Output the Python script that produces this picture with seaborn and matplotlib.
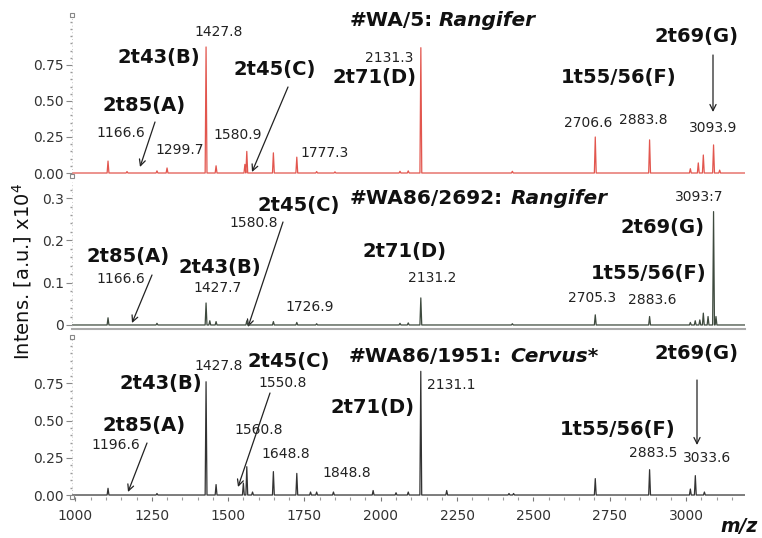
import numpy as np
import pandas as pd
import matplotlib
matplotlib.use("Agg")
import matplotlib.pyplot as plt
import seaborn as sns
from matplotlib.ticker import MultipleLocator, FixedLocator

# ---------------- data (peak lists) ----------------
mz_wa5 = [1106.7, 1168.9, 1267, 1300, 1427.8, 1460.6, 1555, 1561.2, 1648.3, 1725,
          1790, 1850, 2063, 2090, 2131.3, 2431, 2702.6, 2880.5, 3014, 3040, 3056.5,
          3090, 3110]
int_wa5 = [0.083, 0.01, 0.015, 0.035, 0.875, 0.05, 0.06, 0.15, 0.14, 0.11,
           0.01, 0.008, 0.012, 0.015, 0.87, 0.012, 0.25, 0.23, 0.03, 0.07, 0.125,
           0.195, 0.02]

mz_wa2692 = [1106.7, 1267, 1427.8, 1440, 1460.6, 1561.2, 1648.3, 1725, 1790, 2063,
             2090, 2131.2, 2431, 2702.6, 2880.5, 3014, 3030, 3045, 3056.5, 3072,
             3090, 3098]
int_wa2692 = [0.017, 0.004, 0.052, 0.01, 0.008, 0.01, 0.008, 0.006, 0.003, 0.004,
              0.005, 0.064, 0.003, 0.024, 0.02, 0.006, 0.01, 0.012, 0.028, 0.02,
              0.268, 0.02]

mz_wa1951 = [1106.7, 1267, 1427.8, 1460.6, 1550, 1561.2, 1580, 1648.3, 1725, 1770,
             1790, 1845, 1975, 2050, 2090, 2131.1, 2216, 2420, 2435, 2702.6, 2880.5,
             3014, 3030.3, 3060]
int_wa1951 = [0.045, 0.01, 0.76, 0.07, 0.08, 0.19, 0.02, 0.157, 0.145, 0.02,
              0.02, 0.02, 0.03, 0.015, 0.02, 0.83, 0.03, 0.01, 0.01, 0.11, 0.17,
              0.04, 0.13, 0.02]

xticks = [1000, 1250, 1500, 1750, 2000, 2250, 2500, 2750, 3000]
yticks_big = [0.0, 0.25, 0.50, 0.75]
yticklabels_big = ["0.00", "0.25", "0.50", "0.75"]
yticks_small = [0.0, 0.1, 0.2, 0.3]
yticklabels_small = ["0", "0.1", "0.2", "0.3"]

sample_ids = ["#WA/5:", "#WA86/2692:", "#WA86/1951:"]
taxa = ["Rangifer", "Rangifer", "Cervus*"]

# ---------------- styling ----------------
sns.set_theme(style="white")
plt.rcParams['font.family'] = ['DejaVu Sans']

W, H = 762, 538
fig = plt.figure(figsize=(W / 100, H / 100), dpi=100)


def px_axes(l, t, r, b):
    return fig.add_axes([l / W, 1 - b / H, (r - l) / W, (b - t) / H])


ax1 = px_axes(72, 15, 745, 176)
ax2 = px_axes(72, 182, 745, 329)
ax3 = px_axes(72, 337, 745, 497)
XMIN, XMAX = 988.7, 3193.0


def stick_frame(mz, inten, half=3.0):
    xs, ys = [XMIN], [0.0]
    for m, h in sorted(zip(mz, inten)):
        xs += [m - half, m, m + half]
        ys += [0.0, h, 0.0]
    xs.append(XMAX)
    ys.append(0.0)
    return pd.DataFrame({"mz": xs, "intensity": ys})


panels = [
    (ax1, mz_wa5, int_wa5, "#e2564e", (-0.0208, 1.097), yticks_big, yticklabels_big, 0.05),
    (ax2, mz_wa2692, int_wa2692, "#3e4a3e", (-0.0095, 0.338), yticks_small, yticklabels_small, 0.02),
    (ax3, mz_wa1951, int_wa1951, "#333333", (-0.0134, 1.0604), yticks_big, yticklabels_big, 0.05),
]

for ax, mz, inten, col, ylim, yt, ytl, minor in panels:
    df = stick_frame(mz, inten)
    sns.lineplot(data=df, x="mz", y="intensity", ax=ax, color=col, lw=0.9,
                 sort=False, estimator=None)
    ax.set_xlim(XMIN, XMAX)
    ax.set_ylim(*ylim)
    ax.set_xlabel("")
    ax.set_ylabel("")
    ax.patch.set_alpha(0)
    for s in ["top", "right", "left", "bottom"]:
        ax.spines[s].set_visible(False)
    ax.yaxis.set_major_locator(FixedLocator(yt))
    ax.set_yticklabels(ytl)
    ax.yaxis.set_minor_locator(MultipleLocator(minor))
    ax.tick_params(axis="y", which="major", left=True, length=4, width=0.8,
                   color="#888888", labelsize=10, labelcolor="#333333", pad=2)
    ax.tick_params(axis="y", which="minor", left=True, length=1.5, width=1.0,
                   color="#999999")
    ax.plot([0, 0], [0, 1], transform=ax.transAxes, color="#bbbbbb", lw=0.6,
            ls=(0, (1, 3)), clip_on=False)

for ax in (ax1, ax2):
    ax.set_xticks([])

ax2.spines["bottom"].set_visible(True)
ax2.spines["bottom"].set_color("#aaaaaa")
ax2.spines["bottom"].set_linewidth(1.5)

ax3.set_xticks(xticks)
ax3.set_xticklabels([str(t) for t in xticks])
ax3.xaxis.set_minor_locator(MultipleLocator(50))
ax3.tick_params(axis="x", which="major", bottom=True, length=3, width=0.8,
                color="#777777", labelsize=10, labelcolor="#333333", pad=6)
ax3.tick_params(axis="x", which="minor", bottom=True, length=2, width=0.8,
                color="#999999")

for ax, ys in ((ax1, (0, 1)), (ax3, (0, 1))):
    ax.plot([0, 0], list(ys), transform=ax.transAxes, ls="none", marker="s",
            ms=3.5, mfc="white", mec="#888888", mew=0.8, clip_on=False)

# ---------------- annotations ----------------
def ptext(x, y, s, size=10, weight="normal", style="normal", ha="center",
          color="#222222"):
    fig.text(x / W, 1 - y / H, s, ha=ha, va="center", fontsize=size,
             fontweight=weight, fontstyle=style, color=color)


def parrow(x0, y0, x1, y1):
    ax1.annotate("", xy=(x1, H - y1), xytext=(x0, H - y0),
                 xycoords="figure pixels", textcoords="figure pixels",
                 arrowprops=dict(arrowstyle="->", lw=0.9, color="#222222",
                                 shrinkA=0, shrinkB=0, mutation_scale=11))


numbers = [
    (219, 32, "1427.8"), (121, 133, "1166.6"), (180, 150, "1299.7"),
    (238, 135, "1580.9"), (325, 153, "1777.3"), (389, 58, "2131.3"),
    (588, 123, "2706.6"), (643, 120, "2883.8"), (713, 128, "3093.9"),
    (121, 279, "1166.6"), (218, 288, "1427.7"), (254, 223, "1580.8"),
    (310, 307, "1726.9"), (432, 278, "2131.2"), (699, 197, "3093:7"),
    (592, 298, "2705.3"), (652, 300, "2883.6"),
    (219, 366, "1427.8"), (283, 383, "1550.8"), (116, 445, "1196.6"),
    (259, 430, "1560.8"), (286, 454, "1648.8"), (347, 473, "1848.8"),
    (451, 385, "2131.1"), (653, 453, "2883.5"), (707, 458, "3033.6"),
]
for x, y, s in numbers:
    ptext(x, y, s, size=10)

bold_labels = [
    (159, 58, "2t43(B)"), (144, 105, "2t85(A)"), (275, 70, "2t45(C)"),
    (375, 77, "2t71(D)"), (619, 78, "1t55/56(F)"), (696, 37, "2t69(G)"),
    (128, 257, "2t85(A)"), (220, 267, "2t43(B)"), (299, 205, "2t45(C)"),
    (404, 252, "2t71(D)"), (663, 227, "2t69(G)"), (649, 273, "1t55/56(F)"),
    (161, 383, "2t43(B)"), (289, 362, "2t45(C)"), (144, 425, "2t85(A)"),
    (373, 408, "2t71(D)"), (696, 353, "2t69(G)"), (618, 430, "1t55/56(F)"),
]
for x, y, s in bold_labels:
    ptext(x, y, s, size=14, weight="bold", color="#111111")

arrows = [
    (155, 122, 140, 167), (288, 87, 252, 172), (713, 55, 713, 112),
    (152, 275, 132, 323), (283, 222, 248, 327),
    (147, 443, 128, 492), (270, 393, 238, 487), (697, 380, 697, 445),
]
for a in arrows:
    parrow(*a)

title_pos = [(433, 439, 20), (503, 511, 199), (502, 510, 357)]
for (xr, xl, y), sid, tax in zip(title_pos, sample_ids, taxa):
    ptext(xr, y, sid, size=14.5, weight="bold", ha="right", color="#111111")
    ptext(xl, y, tax, size=14.5, weight="bold", style="italic", ha="left",
          color="#111111")

fig.text(22 / W, 1 - 271 / H, "Intens. [a.u.] x10$^4$", rotation=90,
         fontsize=14, ha="center", va="center", color="#111111")
ptext(758, 526, "m/z", size=13.5, weight="bold", style="italic", ha="right",
      color="#111111")

fig.savefig("out.png", dpi=100)
